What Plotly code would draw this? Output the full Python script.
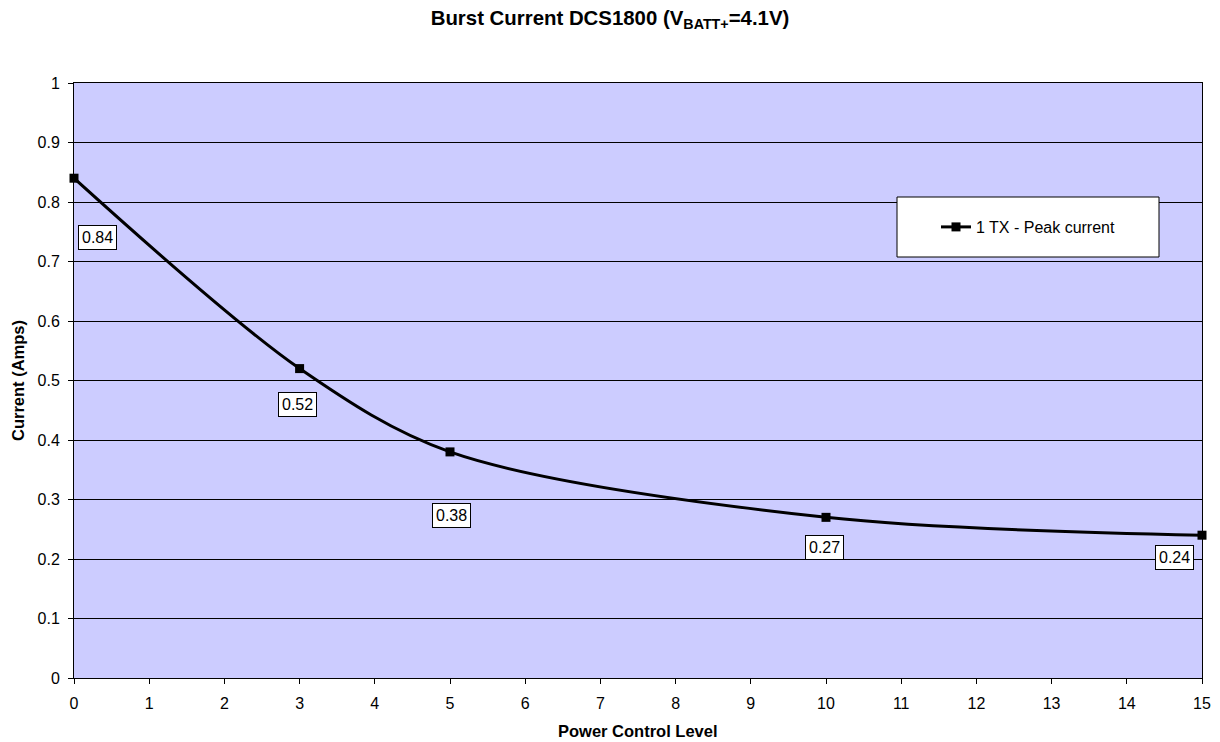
import plotly.graph_objects as go

levels = [0, 3, 5, 10, 15]
current = [0.84, 0.52, 0.38, 0.27, 0.24]
label_texts = ["0.84", "0.52", "0.38", "0.27", "0.24"]
label_shift_x = [23, -2, 1, -2, -28]
label_shift_y = [-59, -36, -64, -30, -22]

L, R, T, B = 74, 18, 83, 64
W, H = 1220, 742
PW, PH = W - L - R, H - T - B

fig = go.Figure()
fig.add_trace(go.Scatter(
    x=levels, y=current, mode="lines+markers",
    name="1 TX - Peak current",
    line=dict(color="black", width=3, shape="spline", smoothing=0.9),
    marker=dict(symbol="square", size=9, color="black"),
    cliponaxis=False,
))

for x, y, t, sx, sy in zip(levels, current, label_texts, label_shift_x, label_shift_y):
    fig.add_annotation(x=x, y=y, text=t, showarrow=False, xshift=sx, yshift=sy,
                       bgcolor="white", bordercolor="black", borderwidth=1, borderpad=3,
                       font=dict(family="Arial, Liberation Sans", size=16, color="black"))

# x axis title as annotation
fig.add_annotation(xref="paper", yref="paper", x=0.5, y=0, yshift=-53,
                   xanchor="center", yanchor="middle", showarrow=False,
                   text="<b>Power Control Level</b>", font=dict(size=16.5))

# legend box (screen coords 897-1159 x 197-257)
fig.add_shape(type="rect", xref="paper", yref="paper",
              x0=(897-L)/PW, x1=(1159-L)/PW, y0=(H-B-257)/PH, y1=(H-B-197)/PH,
              fillcolor="white", line=dict(color="black", width=1), layer="above")

fig.update_layout(
    width=W, height=H,
    margin=dict(l=L, r=R, t=T, b=B, autoexpand=False),
    paper_bgcolor="white", plot_bgcolor="#CCCCFF",
    font=dict(family="Arial, Liberation Sans", size=16, color="black"),
    title=dict(text="<b>Burst Current DCS1800 (V<sub>BATT+</sub>=4.1V)</b>",
               x=0.5, xref="container", xanchor="center", y=1 - 18/H, yanchor="middle",
               font=dict(size=20.4)),
    showlegend=True,
    legend=dict(x=(936-L)/PW, y=(H-B-227)/PH, xanchor="left", yanchor="middle",
                bgcolor="rgba(0,0,0,0)", borderwidth=0, font=dict(size=16),
                itemwidth=30),
    xaxis=dict(range=[0, 15], dtick=1, tick0=0, showgrid=False, zeroline=False,
               showline=True, linecolor="black", mirror=True, ticks="outside", ticklen=5,
               tickcolor="black", tickfont=dict(size=16), automargin=False,
               ticklabelstandoff=6),
    yaxis=dict(range=[0, 1], dtick=0.1, tick0=0, showgrid=True, gridcolor="black", gridwidth=1,
               zeroline=False, showline=True, linecolor="black", mirror=True,
               ticks="outside", ticklen=5, tickcolor="black", tickfont=dict(size=16),
               ticklabelstandoff=5, automargin=False,
               title=dict(text="<b>Current (Amps)</b>", font=dict(size=16.5), standoff=8)),
)

fig.write_html("out.html", config={"displayModeBar": False},
               post_script="document.body.style.margin='0';document.body.style.overflow='hidden';")
